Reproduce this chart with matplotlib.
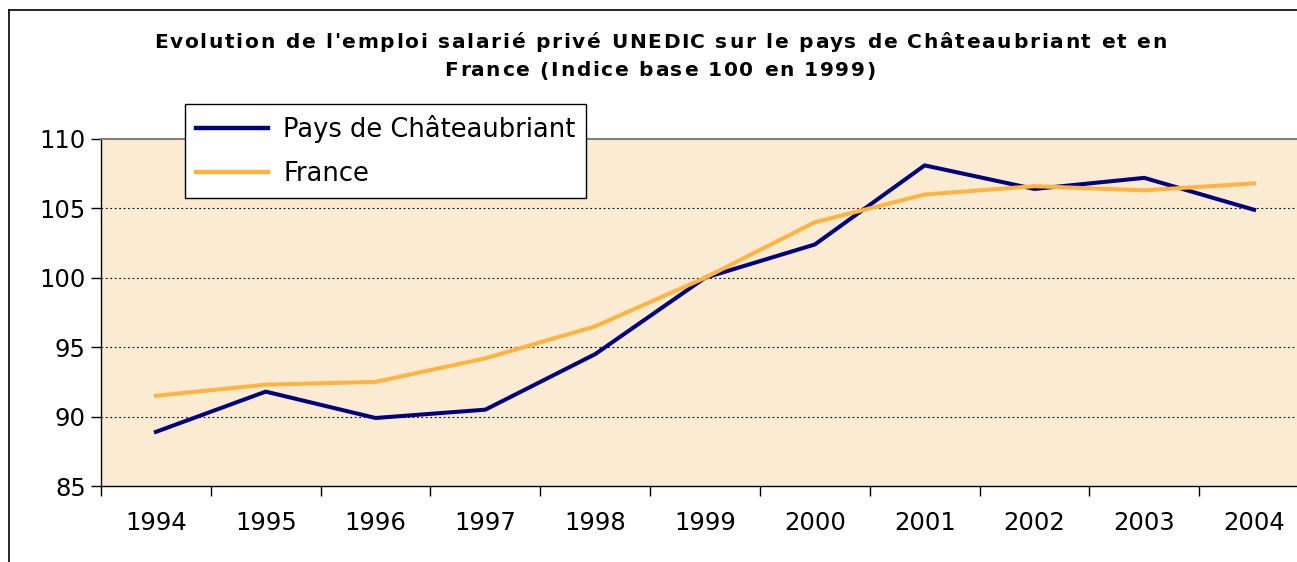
import matplotlib.pyplot as plt
from matplotlib.lines import Line2D
from matplotlib import font_manager

years = ['1994', '1995', '1996', '1997', '1998', '1999',
         '2000', '2001', '2002', '2003', '2004']
pays = [88.9, 91.8, 89.9, 90.5, 94.5, 100.0, 102.4, 108.1, 106.4, 107.2, 104.9]
france = [91.5, 92.3, 92.5, 94.2, 96.5, 100.0, 104.0, 106.0, 106.6, 106.3, 106.8]
title_lines = ["Evolution de l'emploi salarié privé UNEDIC sur le pays de Châteaubriant et en",
               "France (Indice base 100 en 1999)"]

W, H = 1297, 562
DPI = 100
fig = plt.figure(figsize=(W / DPI, H / DPI), dpi=DPI)
renderer = fig.canvas.get_renderer()


def tracked_text(cx, cy, s, size, track):
    """Draw bold text centred at pixel (cx, cy) with extra letter spacing."""
    prop = font_manager.FontProperties(family='DejaVu Sans', weight='bold', size=size)
    wx = renderer.get_text_width_height_descent('x', prop, ismath=False)[0]
    offs = [renderer.get_text_width_height_descent(s[:i] + 'x', prop, ismath=False)[0] - wx
            for i in range(len(s))]
    full = renderer.get_text_width_height_descent(s, prop, ismath=False)[0]
    total = full + track * (len(s) - 1)
    x0 = cx - total / 2
    for i, c in enumerate(s):
        fig.text((x0 + offs[i] + track * i) / W, 1 - cy / H, c,
                 fontproperties=prop, ha='left', va='center')


# outer chart frame (cut off at right and bottom)
fig.add_artist(Line2D([9 / W, 9 / W], [0, 1 - 10 / H], color='black', lw=1.2))
fig.add_artist(Line2D([9 / W, 1], [1 - 10 / H, 1 - 10 / H], color='black', lw=1.2))

ax = fig.add_axes([101 / W, 76 / H, 1208 / W, 347 / H])
ax.set_facecolor('#FAEBD2')

x = list(range(len(years)))
ax.plot(x, pays, color='#000080', lw=2.9, label='Pays de Châteaubriant', zorder=3)
ax.plot(x, france, color='#FFB340', lw=2.9, label='France', zorder=3)

ax.set_xlim(-0.5, len(years) - 0.5)
ax.set_ylim(85, 110)
ax.set_yticks([85, 90, 95, 100, 105, 110])
ax.set_xticks(x)
ax.set_xticklabels(years)
ax.set_xticks([i - 0.5 for i in range(len(years) + 1)], minor=True)
ax.tick_params(axis='x', which='major', length=0, pad=18, labelsize=17.5)
ax.tick_params(axis='x', which='minor', length=7, width=1)
ax.tick_params(axis='y', length=7, width=1, labelsize=17.5, pad=4)

for v in [90, 95, 100, 105]:
    ax.axhline(v, color='black', lw=0.8, ls=(0, (1.5, 2.5)), zorder=1)

ax.spines['top'].set_color('#808080')
ax.spines['top'].set_linewidth(1.5)
ax.spines['right'].set_visible(False)
ax.spines['left'].set_linewidth(1)
ax.spines['bottom'].set_linewidth(1)

leg = ax.legend(loc='upper left', bbox_to_anchor=(84 / 1208, 1 + 35 / 347),
                fontsize=18.5, frameon=True, fancybox=False, handlelength=2.8,
                borderpad=0.42, labelspacing=0.72, handletextpad=0.6,
                borderaxespad=0)
leg.get_frame().set_edgecolor('black')
leg.get_frame().set_linewidth(1)
leg.get_frame().set_facecolor('white')
leg.get_frame().set_alpha(1)
for h in leg.get_lines():
    h.set_linewidth(3.2)

tracked_text(660, 42, title_lines[0], 14.5, 1.7)
tracked_text(660, 71, title_lines[1], 14.5, 1.7)

fig.savefig('out.png', dpi=DPI)
